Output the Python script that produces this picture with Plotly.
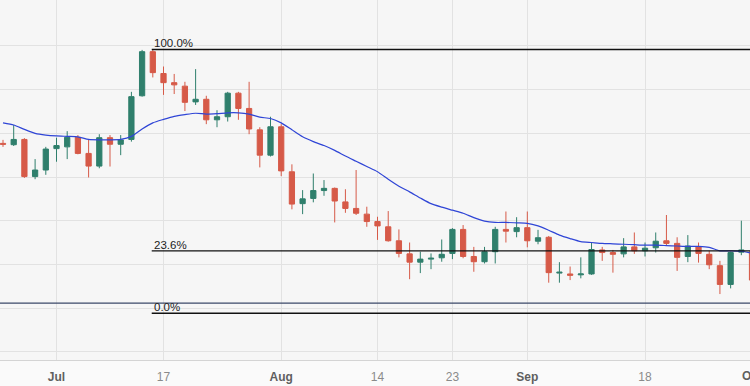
import plotly.graph_objects as go

# Trading-day index (Jun 26 2023 = 0 ... Oct 2 2023 = 70), AUD/USD daily candles
day_index = list(range(71))

opens = [0.6677, 0.6674, 0.6686, 0.6601, 0.6616, 0.6665, 0.6669, 0.6691, 0.6654, 0.6625,
         0.6690, 0.6675, 0.6686, 0.6786, 0.6887, 0.6837, 0.6816, 0.6808, 0.6772, 0.6778,
         0.6731, 0.6738, 0.6792, 0.6757, 0.6708, 0.6650, 0.6715, 0.6612, 0.6539, 0.6551,
         0.6569, 0.6574, 0.6543, 0.6528, 0.6515, 0.6498, 0.6486, 0.6454, 0.6424, 0.6405,
         0.6412, 0.6415, 0.6425, 0.6480, 0.6418, 0.6406, 0.6429, 0.6480, 0.6475, 0.6484,
         0.6453, 0.6462, 0.6380, 0.6378, 0.6376, 0.6378, 0.6433, 0.6427, 0.6424, 0.6440,
         0.6431, 0.6438, 0.6454, 0.6448, 0.6418, 0.6440, 0.6423, 0.6397, 0.6354, 0.6428,
         0.6429]
highs = [0.6685, 0.6719, 0.6689, 0.6641, 0.6669, 0.6690, 0.6705, 0.6696, 0.6685, 0.6698,
         0.6696, 0.6696, 0.6795, 0.6891, 0.6892, 0.6853, 0.6836, 0.6818, 0.6847, 0.6786,
         0.6753, 0.6795, 0.6795, 0.6818, 0.6714, 0.6738, 0.6721, 0.6629, 0.6570, 0.6608,
         0.6593, 0.6576, 0.6572, 0.6616, 0.6532, 0.6509, 0.6522, 0.6480, 0.6450, 0.6429,
         0.6425, 0.6457, 0.6483, 0.6490, 0.6440, 0.6440, 0.6486, 0.6521, 0.6508, 0.6521,
         0.6479, 0.6465, 0.6405, 0.6395, 0.6416, 0.6450, 0.6440, 0.6433, 0.6460, 0.6473,
         0.6450, 0.6473, 0.6513, 0.6462, 0.6467, 0.6450, 0.6431, 0.6408, 0.6429, 0.6500,
         0.6433]
lows = [0.6669, 0.6671, 0.6598, 0.6595, 0.6605, 0.6635, 0.6641, 0.6652, 0.6599, 0.6620,
        0.6624, 0.6650, 0.6681, 0.6784, 0.6828, 0.6788, 0.6790, 0.6751, 0.6765, 0.6721,
        0.6714, 0.6727, 0.6731, 0.6698, 0.6622, 0.6647, 0.6602, 0.6526, 0.6515, 0.6542,
        0.6557, 0.6496, 0.6518, 0.6513, 0.6486, 0.6456, 0.6452, 0.6416, 0.6366, 0.6380,
        0.6389, 0.6406, 0.6412, 0.6414, 0.6383, 0.6402, 0.6402, 0.6450, 0.6462, 0.6439,
        0.6446, 0.6358, 0.6358, 0.6364, 0.6368, 0.6376, 0.6408, 0.6381, 0.6416, 0.6424,
        0.6418, 0.6427, 0.6442, 0.6385, 0.6405, 0.6404, 0.6389, 0.6332, 0.6345, 0.6421,
        0.6358]
closes = [0.6675, 0.6686, 0.6601, 0.6616, 0.6664, 0.6672, 0.6691, 0.6654, 0.6625, 0.6690,
          0.6675, 0.6685, 0.6784, 0.6887, 0.6839, 0.6816, 0.6811, 0.6771, 0.6778, 0.6731,
          0.6738, 0.6792, 0.6757, 0.6710, 0.6650, 0.6715, 0.6614, 0.6538, 0.6550, 0.6569,
          0.6574, 0.6545, 0.6528, 0.6517, 0.6498, 0.6488, 0.6454, 0.6425, 0.6405, 0.6412,
          0.6414, 0.6423, 0.6480, 0.6418, 0.6406, 0.6429, 0.6480, 0.6476, 0.6484, 0.6454,
          0.6461, 0.6381, 0.6382, 0.6375, 0.6378, 0.6434, 0.6427, 0.6423, 0.6440, 0.6431,
          0.6437, 0.6453, 0.6448, 0.6416, 0.6442, 0.6425, 0.6399, 0.6354, 0.6427, 0.6433,
          0.6364]
moving_avg = [0.6724, 0.6719, 0.6709, 0.6700, 0.6696, 0.6694, 0.6693, 0.6692, 0.6686, 0.6685,
              0.6685, 0.6686, 0.6693, 0.6710, 0.6724, 0.6732, 0.6739, 0.6743, 0.6746, 0.6744,
              0.6745, 0.6747, 0.6747, 0.6744, 0.6737, 0.6734, 0.6724, 0.6708, 0.6692, 0.6681,
              0.6672, 0.6661, 0.6648, 0.6636, 0.6624, 0.6612, 0.6595, 0.6579, 0.6566, 0.6552,
              0.6539, 0.6531, 0.6524, 0.6517, 0.6507, 0.6499, 0.6496, 0.6496, 0.6495, 0.6494,
              0.6488, 0.6478, 0.6467, 0.6459, 0.6452, 0.6450, 0.6448, 0.6447, 0.6446, 0.6445,
              0.6444, 0.6444, 0.6443, 0.6442, 0.6441, 0.6441, 0.6439, 0.6431, 0.6431, 0.6430,
              0.6425]

tick_positions = [5, 15, 26, 35, 42, 49, 60]
tick_labels = ["Jul", "17", "Aug", "14", "23", "Sep", "18"]
month_ticks = {"Jul", "Aug", "Sep"}
oct_position = 70
oct_label = "Oct"

fib_levels = [0.6892, 0.6431, 0.6288]
fib_labels = ["100.0%", "23.6%", "0.0%"]
fib_start = 14
current_price = 0.6311

grid_levels = [0.62, 0.63, 0.64, 0.65, 0.66, 0.67, 0.68, 0.69]
x_range = [-0.28, 69.81]
y_range = [0.6181, 0.70053]

UP = "#2f7f6c"
DOWN = "#d65a48"
FONT = "Liberation Sans, Arial, sans-serif"

fig = go.Figure()
fig.add_trace(go.Candlestick(
    x=day_index, open=opens, high=highs, low=lows, close=closes,
    increasing=dict(line=dict(color=UP, width=1), fillcolor=UP),
    decreasing=dict(line=dict(color=DOWN, width=1), fillcolor=DOWN),
    whiskerwidth=0, showlegend=False, hoverinfo="skip",
))
fig.add_trace(go.Scatter(
    x=day_index, y=moving_avg, mode="lines",
    line=dict(color="#2f45d6", width=1.2, shape="spline", smoothing=0.6),
    showlegend=False, hoverinfo="skip",
))

# current price line
fig.add_shape(type="line", xref="paper", x0=0, x1=1, yref="y", y0=current_price, y1=current_price,
              line=dict(color="#3b4868", width=1.2), layer="above")

for lvl, lab in zip(fib_levels, fib_labels):
    fig.add_shape(type="line", xref="x", x0=fib_start - 0.1, x1=75, yref="y", y0=lvl, y1=lvl,
                  line=dict(color="#111111", width=1.3), layer="above")
    fig.add_annotation(x=fib_start - 0.1, y=lvl, xref="x", yref="y", text=lab, showarrow=False,
                       xanchor="left", yanchor="bottom", yshift=-2,
                       font=dict(family=FONT, size=11.5, color="#222222"))

ticktext = []
for t in tick_labels:
    if t in month_ticks:
        ticktext.append("<b>%s</b>" % t)
    else:
        ticktext.append("<span style='color:#8a8a8a'>%s</span>" % t)

# month label for the partially visible last session (its tick lies just past the right edge)
oct_paper_x = (oct_position - x_range[0]) / (x_range[1] - x_range[0])
fig.add_annotation(x=oct_paper_x, xref="paper", y=0, yref="paper", yanchor="top", yshift=-7,
                   xanchor="center", text="<b>%s</b>" % oct_label, showarrow=False,
                   font=dict(family=FONT, size=12, color="#5f5f5f"))

fig.update_layout(
    width=750, height=386,
    margin=dict(l=0, r=0, t=0, b=26),
    paper_bgcolor="#fafafa",
    plot_bgcolor="#f6f6f6",
    boxgap=0.3,
    font=dict(family=FONT, size=12, color="#5f5f5f"),
    xaxis=dict(
        range=x_range, tickmode="array", tickvals=tick_positions, ticktext=ticktext,
        showgrid=True, gridcolor="#e2e2e2", gridwidth=1, zeroline=False,
        showline=True, linecolor="#d4d4d4", linewidth=1, ticks="", ticklabelstandoff=6,
        rangeslider=dict(visible=False), fixedrange=True,
    ),
    yaxis=dict(
        range=y_range, tickmode="array", tickvals=grid_levels, showticklabels=False,
        showgrid=True, gridcolor="#e2e2e2", gridwidth=1, zeroline=False, showline=False, ticks="",
        fixedrange=True,
    ),
)

fig.write_html("out.html", config={"displayModeBar": False},
               post_script="document.body.style.margin='0';document.body.style.overflow='hidden';")
